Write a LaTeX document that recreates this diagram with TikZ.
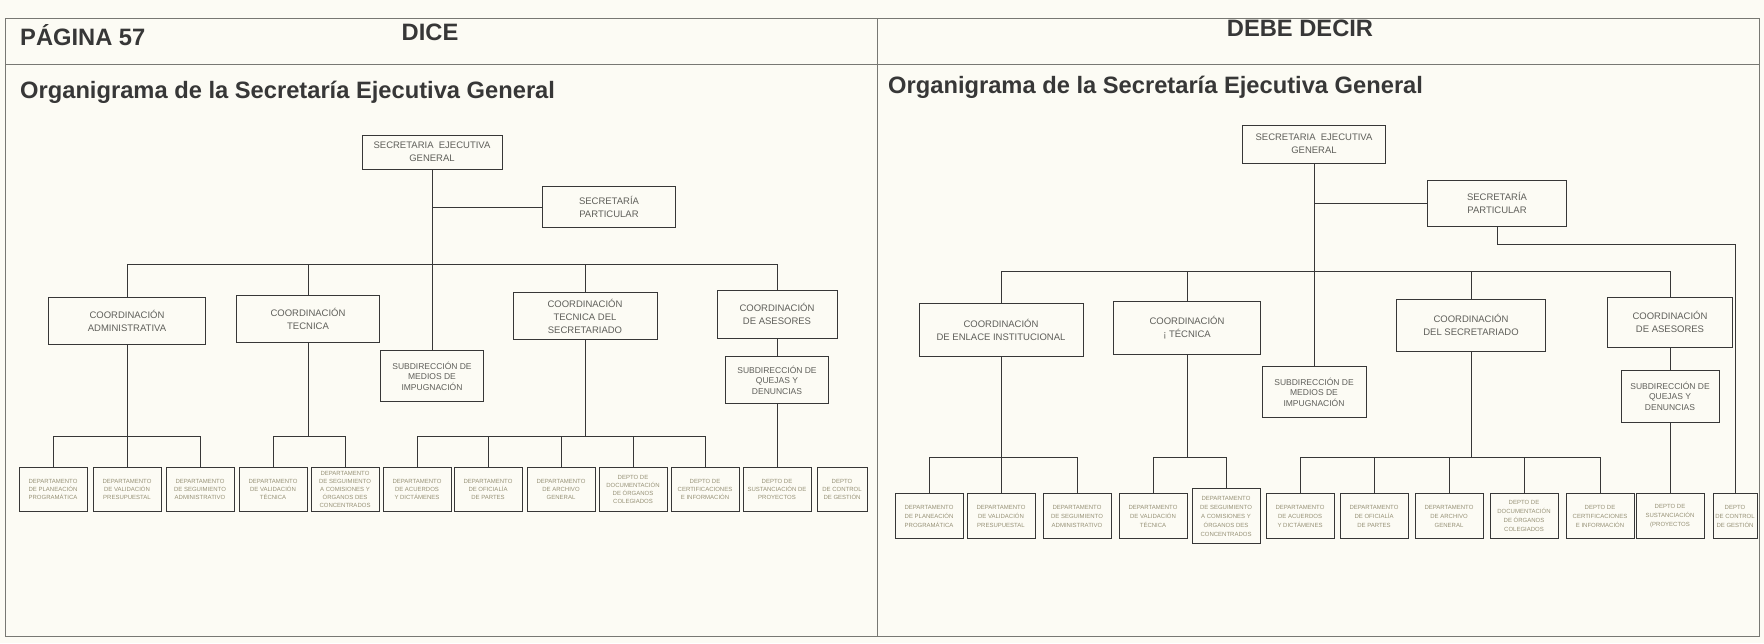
\documentclass[tikz,border=0pt]{standalone}
\usepackage{fontspec}
\setmainfont{Liberation Sans}
\definecolor{paper}{RGB}{252,251,244}
\definecolor{ink}{RGB}{55,55,55}
\definecolor{rule}{RGB}{120,120,115}
\definecolor{boxtxt}{RGB}{95,95,90}
\definecolor{depttxt}{RGB}{150,145,118}
\tikzset{
	every node/.style = {inner sep=0pt},
	org/.style = {draw=ink, fill=paper, align=center, text=boxtxt, line width=0.8pt, font=\fontsize{9.5}{13}\selectfont},
	sub/.style = {org, font=\fontsize{8.5}{10.5}\selectfont},
	dept/.style = {org, text=depttxt, minimum width=68pt, minimum height=44pt, font=\fontsize{6}{8}\selectfont},
	head/.style = {text=ink, font=\fontsize{23.7}{24}\selectfont\bfseries},
	link/.style = {draw=ink, line width=0.8pt}
}

\begin{document}
\begin{tikzpicture}[x=1pt, y=-1pt]
	\useasboundingbox[fill=paper] (0,0) rectangle (1764,643);
	% frame
	\draw[rule, line width=0.8pt] (5,18) rectangle (1759,636);
	\draw[rule, line width=0.8pt] (5,64) -- (1759,64);
	\draw[rule, line width=0.8pt] (877,18) -- (877,636);
	\node[head, anchor=west] (pag) at (20,35) {PÁGINA 57};
	\node[head] (dice) at (430,32) {DICE};
	\node[head] (debe) at (1300,28) {DEBE DECIR};
	\node[head, anchor=west] (ltitle) at (20,92) {Organigrama de la Secretaría Ejecutiva General};
	\node[head, anchor=west] (rtitle) at (888,87) {Organigrama de la Secretaría Ejecutiva General};

	% dice: top
	\node[org, minimum width=140pt, minimum height=34pt] (lseg) at (432,152) {SECRETARIA\ \ EJECUTIVA\\GENERAL};
	\node[org, minimum width=133pt, minimum height=41pt] (lsp) at (609,207) {SECRETARÍA\\PARTICULAR};
	% dice: coordinaciones
	\node[org, minimum width=157pt, minimum height=47pt] (lca) at (127,321) {COORDINACIÓN\\ADMINISTRATIVA};
	\node[org, minimum width=143pt, minimum height=47pt] (lct) at (308,319) {COORDINACIÓN\\TECNICA};
	\node[sub, minimum width=103pt, minimum height=51pt] (lsmi) at (432,376) {SUBDIRECCIÓN DE\\MEDIOS DE\\IMPUGNACIÓN};
	\node[org, minimum width=144pt, minimum height=47pt] (lcts) at (585,316) {COORDINACIÓN\\TECNICA DEL\\SECRETARIADO};
	\node[org, minimum width=120pt, minimum height=48pt] (lcas) at (777,314) {COORDINACIÓN\\DE ASESORES};
	\node[sub, minimum width=103pt, minimum height=47pt] (lsqd) at (777,380) {SUBDIRECCIÓN DE\\QUEJAS Y\\DENUNCIAS};
	% dice: departamentos
	\foreach \n/\x/\t in {1/53/{DEPARTAMENTO\\DE PLANEACIÓN\\PROGRAMÁTICA}, 2/127/{DEPARTAMENTO\\DE VALIDACIÓN\\PRESUPUESTAL}, 3/200/{DEPARTAMENTO\\DE SEGUIMIENTO\\ADMINISTRATIVO}, 4/273/{DEPARTAMENTO\\DE VALIDACIÓN\\TÉCNICA}, 5/345/{DEPARTAMENTO\\DE SEGUIMIENTO\\A COMISIONES Y\\ÓRGANOS DES\\CONCENTRADOS}, 6/417/{DEPARTAMENTO\\DE ACUERDOS\\Y DICTÁMENES}, 7/488/{DEPARTAMENTO\\DE OFICIALÍA\\DE PARTES}, 8/561/{DEPARTAMENTO\\DE ARCHIVO\\GENERAL}, 9/633/{DEPTO DE\\DOCUMENTACIÓN\\DE ÓRGANOS\\COLEGIADOS}, 10/705/{DEPTO DE\\CERTIFICACIONES\\E INFORMACIÓN}, 11/777/{DEPTO DE\\SUSTANCIACIÓN DE\\PROYECTOS}}
		\node[dept] (ld\n) at (\x,489) {\t};
	\node[dept, minimum width=50pt] (ld12) at (842,489) {DEPTO\\DE CONTROL\\DE GESTIÓN};
	% dice: lines
	\coordinate (lbus) at (0,264);
	\coordinate (lsb) at (0,436);
	\draw[link] (lseg.south) -- (lsmi.north);
	\draw[link] (lseg.south |- lsp.west) -- (lsp.west);
	\draw[link] (lca.north) -- (lca.north |- lbus) -- (lcas.north |- lbus) -- (lcas.north);
	\foreach \c in {lct, lcts}
		\draw[link] (\c.north) -- (\c.north |- lbus);
	\draw[link] (lcas.south) -- (lsqd.north);
	\draw[link] (lsqd.south) -- (ld11.north);
	\draw[link] (lca.south) -- (lca.south |- lsb);
	\draw[link] (lct.south) -- (lct.south |- lsb);
	\draw[link] (lcts.south) -- (lcts.south |- lsb);
	\draw[link] (ld1.north |- lsb) -- (ld3.north |- lsb);
	\draw[link] (ld4.north |- lsb) -- (ld5.north |- lsb);
	\draw[link] (ld6.north |- lsb) -- (ld10.north |- lsb);
	\foreach \d in {1,...,10}
		\draw[link] (ld\d.north) -- (ld\d.north |- lsb);

	% debe decir: top
	\node[org, minimum width=143pt, minimum height=38pt] (rseg) at (1314,144) {SECRETARIA\ \ EJECUTIVA\\GENERAL};
	\node[org, minimum width=139pt, minimum height=46pt] (rsp) at (1497,203) {SECRETARÍA\\PARTICULAR};
	% debe decir: coordinaciones
	\node[org, minimum width=164pt, minimum height=53pt] (rcei) at (1001,330) {COORDINACIÓN\\DE ENLACE INSTITUCIONAL};
	\node[org, minimum width=147pt, minimum height=53pt] (rct) at (1187,328) {COORDINACIÓN\\¡ TÉCNICA};
	\node[sub, minimum width=104pt, minimum height=51pt] (rsmi) at (1314,392) {SUBDIRECCIÓN DE\\MEDIOS DE\\IMPUGNACIÓN};
	\node[org, minimum width=149pt, minimum height=52pt] (rcds) at (1471,325) {COORDINACIÓN\\DEL SECRETARIADO};
	\node[org, minimum width=125pt, minimum height=50pt] (rcas) at (1670,322) {COORDINACIÓN\\DE ASESORES};
	\node[sub, minimum width=98pt, minimum height=52pt] (rsqd) at (1670,396) {SUBDIRECCIÓN DE\\QUEJAS Y\\DENUNCIAS};
	% debe decir: departamentos
	\foreach \n/\x/\t in {1/929/{DEPARTAMENTO\\DE PLANEACIÓN\\PROGRAMÁTICA}, 2/1001/{DEPARTAMENTO\\DE VALIDACIÓN\\PRESUPUESTAL}, 3/1077/{DEPARTAMENTO\\DE SEGUIMIENTO\\ADMINISTRATIVO}, 4/1153/{DEPARTAMENTO\\DE VALIDACIÓN\\TÉCNICA}, 6/1300/{DEPARTAMENTO\\DE ACUERDOS\\Y DICTÁMENES}, 7/1374/{DEPARTAMENTO\\DE OFICIALÍA\\DE PARTES}, 8/1449/{DEPARTAMENTO\\DE ARCHIVO\\GENERAL}, 9/1524/{DEPTO DE\\DOCUMENTACIÓN\\DE ÓRGANOS\\COLEGIADOS}, 10/1600/{DEPTO DE\\CERTIFICACIONES\\E INFORMACIÓN}, 11/1670/{DEPTO DE\\SUSTANCIACIÓN\\(PROYECTOS}}
		\node[dept, minimum height=45pt, font=\fontsize{6}{9}\selectfont] (rd\n) at (\x,516) {\t};
	\node[dept, minimum height=55pt, font=\fontsize{6}{9}\selectfont] (rd5) at (1226,516) {DEPARTAMENTO\\DE SEGUIMIENTO\\A COMISIONES Y\\ÓRGANOS DES\\CONCENTRADOS};
	\node[dept, minimum width=44pt, minimum height=45pt, font=\fontsize{6}{9}\selectfont] (rd12) at (1735,516) {DEPTO\\DE CONTROL\\DE GESTIÓN};
	% debe decir: lines
	\coordinate (rbus) at (0,271);
	\coordinate (rsb) at (0,457);
	\coordinate (rturn) at (0,244);
	\draw[link] (rseg.south) -- (rsmi.north);
	\draw[link] (rseg.south |- rsp.west) -- (rsp.west);
	\draw[link] (rsp.south) -- (rsp.south |- rturn) -| (rd12.north);
	\draw[link] (rcei.north) -- (rcei.north |- rbus) -- (rcas.north |- rbus) -- (rcas.north);
	\foreach \c in {rct, rcds}
		\draw[link] (\c.north) -- (\c.north |- rbus);
	\draw[link] (rcas.south) -- (rsqd.north);
	\draw[link] (rsqd.south) -- (rd11.north);
	\draw[link] (rcei.south) -- (rcei.south |- rsb);
	\draw[link] (rct.south) -- (rct.south |- rsb);
	\draw[link] (rcds.south) -- (rcds.south |- rsb);
	\draw[link] (rd1.north |- rsb) -- (rd3.north |- rsb);
	\draw[link] (rd4.north |- rsb) -- (rd5.north |- rsb);
	\draw[link] (rd6.north |- rsb) -- (rd10.north |- rsb);
	\foreach \d in {1,...,10}
		\draw[link] (rd\d.north) -- (rd\d.north |- rsb);
\end{tikzpicture}
\end{document}
